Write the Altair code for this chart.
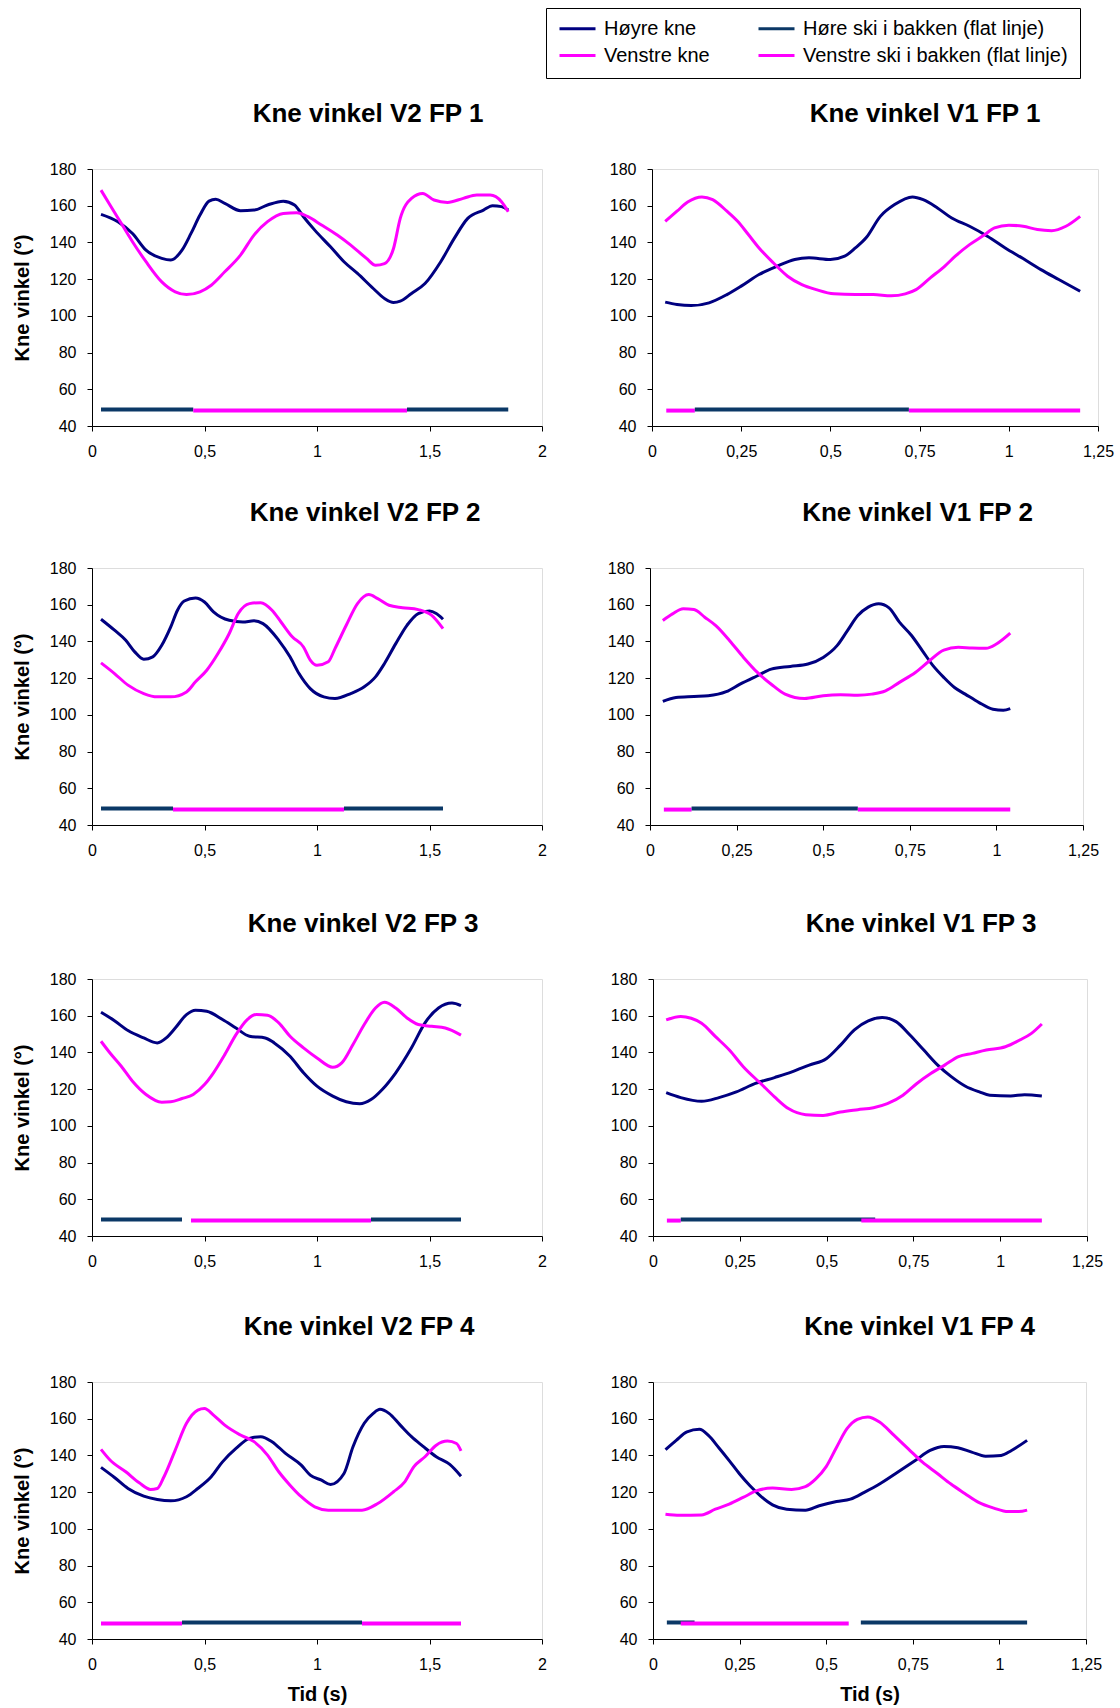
import altair as alt
import pandas as pd

FONT = "Liberation Sans"

# legend is filled column by column: col 1 = knees, col 2 = skis on the ground
SERIES = ["Høyre kne", "Venstre kne", "Høre ski i bakken (flat linje)", "Venstre ski i bakken (flat linje)"]
COLORS = ["#000080", "#FF00FF", "#0B3866", "#FF00FF"]
FLAT_LEVEL = {"H": 49.0, "V": 48.4}
FLAT_NAME = {"H": SERIES[2], "V": SERIES[3]}

TITLES = ["Kne vinkel V2 FP 1", "Kne vinkel V1 FP 1",
          "Kne vinkel V2 FP 2", "Kne vinkel V1 FP 2",
          "Kne vinkel V2 FP 3", "Kne vinkel V1 FP 3",
          "Kne vinkel V2 FP 4", "Kne vinkel V1 FP 4"]
Y_TITLE = "Kne vinkel (°)"
X_TITLE = "Tid (s)"
Y_TICKS = [40, 60, 80, 100, 120, 140, 160, 180]
X_TICKS_V2 = [0, 0.5, 1, 1.5, 2]
X_TICKS_V1 = [0, 0.25, 0.5, 0.75, 1, 1.25]

# ---- V2 FP 1 ----
V2FP1_HOYRE = [(0.04,155.3),(0.115,151.3),(0.18,144.9),(0.24,135.8),(0.31,131.3),(0.35,130.4),(0.40,135.8),(0.44,144.9),(0.48,154.9),(0.52,162.5),(0.55,163.5),(0.59,161.3),(0.66,157.3),(0.72,157.6),(0.78,160.4),(0.85,162.5),(0.90,160.4),(0.94,154),(0.99,146.7),(1.06,137.6),(1.12,129.5),(1.18,123.1),(1.25,114.9),(1.30,109.5),(1.34,107.3),(1.37,108),(1.42,112.2),(1.48,117.6),(1.55,129.5),(1.61,142.2),(1.67,153.1),(1.74,157.6),(1.78,160),(1.82,159.5),(1.85,157.6)]
V2FP1_VENSTRE = [(0.04,168.5),(0.08,160.4),(0.13,150.4),(0.18,140.4),(0.24,129.5),(0.31,118.5),(0.37,113.1),(0.42,111.6),(0.48,113.1),(0.53,116.7),(0.59,124),(0.66,133.1),(0.72,144),(0.78,151.3),(0.85,155.8),(0.91,156.2),(0.96,154),(1.02,149.5),(1.09,144),(1.15,138.5),(1.22,131.3),(1.26,127.6),(1.30,128.5),(1.34,136.7),(1.37,153.1),(1.42,164),(1.47,166.7),(1.52,163.1),(1.58,161.8),(1.65,164),(1.71,165.8),(1.77,165.8),(1.82,162.2),(1.85,156.7)]
V2FP1_FLAT = [("H",0.04,0.45),("V",0.45,1.40),("H",1.40,1.85)]

# ---- V1 FP 1 ----
V1FP1_HOYRE = [(0.037,107.5),(0.07,106.2),(0.11,105.6),(0.16,107.1),(0.21,111.6),(0.25,116.2),(0.30,122.5),(0.35,127),(0.40,130.7),(0.44,131.6),(0.50,130.7),(0.54,132.5),(0.57,137),(0.60,142.5),(0.64,154.2),(0.68,160.6),(0.73,164.8),(0.76,163.3),(0.80,158.8),(0.84,153.3),(0.89,148.8),(0.94,143.4),(0.99,137),(1.04,131.2),(1.09,125.2),(1.14,119.8),(1.20,113.4)]
V1FP1_VENSTRE = [(0.037,151.5),(0.07,157),(0.10,162),(0.14,164.8),(0.17,163.3),(0.21,157),(0.24,151.5),(0.27,144.3),(0.30,137),(0.34,128.9),(0.38,121.6),(0.42,117),(0.46,114.3),(0.51,112),(0.57,111.6),(0.62,111.6),(0.67,110.9),(0.71,112),(0.74,114.3),(0.78,120.7),(0.82,127),(0.85,132.5),(0.89,138.8),(0.93,143.9),(0.96,147.9),(1.00,149.4),(1.04,148.8),(1.08,147),(1.12,146.4),(1.16,148.8),(1.20,154.2)]
V1FP1_FLAT = [("V",0.04,0.12),("H",0.12,0.72),("V",0.72,1.20)]

# ---- V2 FP 2 ----
V2FP2_HOYRE = [(0.04,152.1),(0.10,146.1),(0.15,140.6),(0.19,134.3),(0.23,130.3),(0.27,131.6),(0.31,137.9),(0.35,147.9),(0.38,157),(0.41,162),(0.46,163.7),(0.50,161.5),(0.54,156.1),(0.61,151.5),(0.67,150.6),(0.72,151.2),(0.76,149.7),(0.83,140.6),(0.88,131.6),(0.92,122.5),(0.97,114.3),(1.03,109.8),(1.08,108.9),(1.15,111.6),(1.21,115.3),(1.26,120.7),(1.30,128),(1.35,138.8),(1.40,148.8),(1.45,155.2),(1.50,156.6),(1.53,155.2),(1.56,152.1)]
V2FP2_VENSTRE = [(0.04,128.3),(0.10,122.5),(0.16,116.2),(0.23,111.6),(0.29,109.8),(0.35,109.8),(0.42,112.5),(0.46,118),(0.51,124.3),(0.56,133.4),(0.61,144.3),(0.65,155.2),(0.70,160.6),(0.75,161.1),(0.80,157),(0.84,150.6),(0.89,142.5),(0.94,137),(0.97,129.8),(1.00,127),(1.05,128.9),(1.08,136.1),(1.13,148.8),(1.18,160.6),(1.23,165.5),(1.27,163.3),(1.32,159.7),(1.38,158.4),(1.45,157.3),(1.51,154.2),(1.56,147)]
V2FP2_FLAT = [("H",0.04,0.36),("V",0.36,1.12),("H",1.12,1.56)]

# ---- V1 FP 2 ----
V1FP2_HOYRE = [(0.037,107.3),(0.075,109.5),(0.127,110),(0.168,110.4),(0.22,112.6),(0.26,116.7),(0.31,121.3),(0.35,124.9),(0.405,126.4),(0.456,127.7),(0.50,131.3),(0.54,137.7),(0.57,145.9),(0.60,154.1),(0.63,158.7),(0.66,160.5),(0.69,158.3),(0.72,150.5),(0.755,143.2),(0.786,135),(0.817,126.8),(0.848,120.4),(0.879,114.9),(0.91,111.3),(0.95,106.7),(0.99,103.1),(1.02,102.5),(1.04,103.4)]
V1FP2_VENSTRE = [(0.037,151.4),(0.065,155),(0.096,157.8),(0.127,157.4),(0.158,153.2),(0.19,148.6),(0.23,140.4),(0.27,131.3),(0.31,123.1),(0.35,116.7),(0.39,111.3),(0.446,108.9),(0.50,110.4),(0.55,110.9),(0.60,110.7),(0.64,111.3),(0.68,113.1),(0.72,117.7),(0.766,123.1),(0.807,129.5),(0.848,135.3),(0.89,136.8),(0.93,136.4),(0.97,136.3),(1.00,138.6),(1.04,144.5)]
V1FP2_FLAT = [("V",0.04,0.12),("H",0.12,0.60),("V",0.60,1.04)]

# ---- V2 FP 3 ----
V2FP3_HOYRE = [(0.04,161.9),(0.10,157.3),(0.16,151.9),(0.23,147.9),(0.29,145.2),(0.33,147.9),(0.37,153.3),(0.42,160.6),(0.46,163),(0.51,162.4),(0.58,157.9),(0.64,153.3),(0.70,148.8),(0.77,147.9),(0.81,145.2),(0.88,137.9),(0.94,128.9),(1.00,121.6),(1.07,116.2),(1.13,113.1),(1.19,112),(1.24,114.3),(1.29,119.8),(1.35,128.9),(1.42,142.5),(1.48,156.1),(1.54,164.2),(1.60,166.9),(1.64,165.5)]
V2FP3_VENSTRE = [(0.04,146.1),(0.08,139.7),(0.13,132.5),(0.18,124.3),(0.24,117.1),(0.31,112.9),(0.35,113.1),(0.40,114.9),(0.45,117.1),(0.50,122.5),(0.54,128.9),(0.59,138.8),(0.64,149.7),(0.69,157.9),(0.73,160.6),(0.78,160.3),(0.83,156.1),(0.88,148.8),(0.94,142.5),(1.00,137),(1.07,131.9),(1.11,134.3),(1.16,144.3),(1.21,155.2),(1.26,164.2),(1.30,167.3),(1.35,164.2),(1.40,158.8),(1.45,155.2),(1.51,154.2),(1.57,153.3),(1.64,149.4)]
V2FP3_FLAT = [("H",0.04,0.40),("V",0.44,1.24),("H",1.24,1.64)]

# ---- V1 FP 3 ----
V1FP3_HOYRE = [(0.038,118.1),(0.08,115.4),(0.14,113.4),(0.19,115.4),(0.24,118.5),(0.295,123.1),(0.35,126.3),(0.40,129.4),(0.45,133.1),(0.50,136.7),(0.54,144),(0.58,152.3),(0.62,157.2),(0.66,159),(0.70,156.8),(0.74,149.5),(0.78,141.3),(0.82,133.1),(0.86,126.7),(0.90,121.6),(0.94,118.5),(0.97,116.7),(1.03,116.3),(1.07,117),(1.12,116.3)]
V1FP3_VENSTRE = [(0.038,157.7),(0.08,159.6),(0.11,158.6),(0.14,155.9),(0.18,148.6),(0.22,141.3),(0.26,132.2),(0.31,123.1),(0.35,115.8),(0.39,109.4),(0.44,106.1),(0.49,105.7),(0.54,107.5),(0.59,108.8),(0.635,109.9),(0.675,112.1),(0.72,116.7),(0.76,123.1),(0.80,128.5),(0.84,133.1),(0.88,137.7),(0.92,139.5),(0.96,141.3),(1.015,143.1),(1.057,146.8),(1.09,150.4),(1.12,155.5)]
V1FP3_FLAT = [("V",0.04,0.08),("H",0.08,0.64),("V",0.60,1.12)]

# ---- V2 FP 4 ----
V2FP4_HOYRE = [(0.04,133.5),(0.10,128),(0.16,122),(0.23,117.8),(0.29,116),(0.35,115.3),(0.42,117.5),(0.47,122),(0.53,128.4),(0.58,136.5),(0.64,143.8),(0.70,149.3),(0.75,150.2),(0.80,147.5),(0.86,141.1),(0.93,134.7),(0.97,129.3),(1.02,126.5),(1.06,124.2),(1.12,130.2),(1.16,144.7),(1.21,157.5),(1.25,162.9),(1.28,165.1),(1.32,162.9),(1.37,156.5),(1.42,150.2),(1.47,145.1),(1.53,139.3),(1.59,135.1),(1.64,128.7)]
V2FP4_VENSTRE = [(0.04,143.3),(0.08,137.5),(0.15,131.1),(0.21,125.1),(0.26,121.5),(0.29,122),(0.32,128.4),(0.37,142.9),(0.42,157.5),(0.47,164.7),(0.50,165.6),(0.54,162),(0.59,156.5),(0.66,151.1),(0.72,147.5),(0.78,140.2),(0.83,131.1),(0.88,123.8),(0.93,117.5),(0.99,112),(1.05,110.2),(1.13,110.2),(1.20,110.2),(1.27,113.8),(1.34,120.2),(1.39,125.6),(1.43,133.8),(1.48,139.3),(1.53,145.6),(1.58,147.8),(1.62,146.5),(1.64,142.5)]
V2FP4_FLAT = [("V",0.04,0.40),("H",0.40,1.20),("V",1.20,1.64)]

# ---- V1 FP 4 ----
V1FP4_HOYRE = [(0.036,143.1),(0.067,148.2),(0.098,152.8),(0.134,154.2),(0.16,150.9),(0.19,144.2),(0.22,137.2),(0.25,129.9),(0.28,123.5),(0.31,118),(0.345,113.1),(0.386,110.7),(0.44,110.2),(0.48,112.6),(0.53,114.9),(0.57,116.2),(0.61,119.9),(0.654,124.4),(0.706,130.8),(0.757,137.2),(0.80,142.7),(0.84,144.9),(0.88,144.2),(0.92,141.8),(0.96,139.6),(1.005,140),(1.035,142.7),(1.08,148.2)]
V1FP4_VENSTRE = [(0.036,108),(0.077,107.4),(0.14,107.6),(0.18,110.7),(0.22,113.5),(0.26,117.1),(0.30,120.8),(0.345,122.2),(0.40,121.5),(0.44,123),(0.47,127.2),(0.50,133.9),(0.53,144.5),(0.56,154.6),(0.59,159.7),(0.62,161),(0.654,158.2),(0.696,150.9),(0.737,143.6),(0.778,136.3),(0.82,130.3),(0.86,124.4),(0.90,119.3),(0.94,114.4),(0.984,111.3),(1.025,109.4),(1.056,109.4),(1.08,110.2)]
V1FP4_FLAT = [("H",0.04,0.12),("V",0.08,0.565),("H",0.60,1.08)]


LEGEND = alt.Legend(
    title=None, orient="none", legendX=454, legendY=-161, columns=2,
    symbolType="stroke", symbolSize=1296, symbolStrokeWidth=3, symbolOpacity=1,
    labelFont=FONT, labelFontSize=20, labelColor="black", labelOffset=7,
    strokeColor="black", fillColor="white", padding=12,
    columnPadding=47, rowPadding=6, clipHeight=17, labelLimit=400,
)
COLOR = alt.Color("serie:N", scale=alt.Scale(domain=SERIES, range=COLORS), legend=LEGEND)

AX_COMMON = dict(grid=False, tickSize=5, labelFont=FONT, labelFontSize=16, labelColor="black",
                 domainColor="black", tickColor="black", labelFlush=False, labelOverlap=False,
                 titleFont=FONT, titleFontSize=20, titleFontWeight="bold", titleColor="black")


def panel(title, hoyre, venstre, flats, xmax, width, show_y, show_x, dx):
    rows = [{"t": t, "v": v, "serie": SERIES[0]} for t, v in hoyre]
    rows += [{"t": t, "v": v, "serie": SERIES[1]} for t, v in venstre]
    curves = pd.DataFrame(rows)
    flat_df = pd.DataFrame([{"serie": FLAT_NAME[k], "t0": a, "t1": b, "y": FLAT_LEVEL[k]}
                            for k, a, b in flats])
    xt = X_TICKS_V2 if xmax == 2 else X_TICKS_V1
    xaxis = alt.Axis(values=xt, labelExpr="replace(toString(datum.value), '.', ',')",
                     labelPadding=12, titlePadding=12,
                     title=X_TITLE if show_x else None, **AX_COMMON)
    yaxis = alt.Axis(values=Y_TICKS, labelPadding=11, titlePadding=17,
                     title=Y_TITLE if show_y else None, **AX_COMMON)
    xs = alt.Scale(domain=[0, xmax], nice=False)
    ys = alt.Scale(domain=[40, 180], nice=False)

    flat_layer = alt.Chart(flat_df).mark_rule(strokeWidth=4, strokeCap="butt").encode(
        x=alt.X("t0:Q", scale=xs, axis=xaxis),
        x2="t1:Q",
        y=alt.Y("y:Q", scale=ys, axis=yaxis),
        color=COLOR,
    )
    line_layer = alt.Chart(curves).mark_line(strokeWidth=3, interpolate="monotone").encode(
        x=alt.X("t:Q", scale=xs, axis=xaxis),
        y=alt.Y("v:Q", scale=ys, axis=yaxis),
        color=COLOR,
        order="t:Q",
    )
    return alt.layer(flat_layer, line_layer).properties(
        width=width, height=257,
        title=alt.TitleParams(text=title, font=FONT, fontSize=26, fontWeight="bold",
                              color="black", anchor="middle", frame="group", dx=dx, offset=34),
    )


r1 = alt.hconcat(
    panel(TITLES[0], V2FP1_HOYRE, V2FP1_VENSTRE, V2FP1_FLAT, 2, 450, True, False, 51),
    panel(TITLES[1], V1FP1_HOYRE, V1FP1_VENSTRE, V1FP1_FLAT, 1.25, 446, False, False, 50),
    spacing=61)
r2 = alt.hconcat(
    panel(TITLES[2], V2FP2_HOYRE, V2FP2_VENSTRE, V2FP2_FLAT, 2, 450, True, False, 48),
    panel(TITLES[3], V1FP2_HOYRE, V1FP2_VENSTRE, V1FP2_FLAT, 1.25, 433, False, False, 51),
    spacing=59)
r3 = alt.hconcat(
    panel(TITLES[4], V2FP3_HOYRE, V2FP3_VENSTRE, V2FP3_FLAT, 2, 450, True, False, 46),
    panel(TITLES[5], V1FP3_HOYRE, V1FP3_VENSTRE, V1FP3_FLAT, 1.25, 434, False, False, 51),
    spacing=62)
r4 = alt.hconcat(
    panel(TITLES[6], V2FP4_HOYRE, V2FP4_VENSTRE, V2FP4_FLAT, 2, 450, True, True, 42),
    panel(TITLES[7], V1FP4_HOYRE, V1FP4_VENSTRE, V1FP4_FLAT, 1.25, 433, False, True, 50),
    spacing=62)

top_half = alt.vconcat(r1, r2, spacing=39)
bottom_half = alt.vconcat(r3, r4, spacing=43)

chart = alt.vconcat(top_half, bottom_half, spacing=51).resolve_scale(color="shared").properties(
    padding={"left": 11, "top": 7, "right": 0, "bottom": 0},
    background="white",
).configure_view(stroke=None).configure(font=FONT)

chart.save("out.html", embed_options={"renderer": "svg", "actions": False})
